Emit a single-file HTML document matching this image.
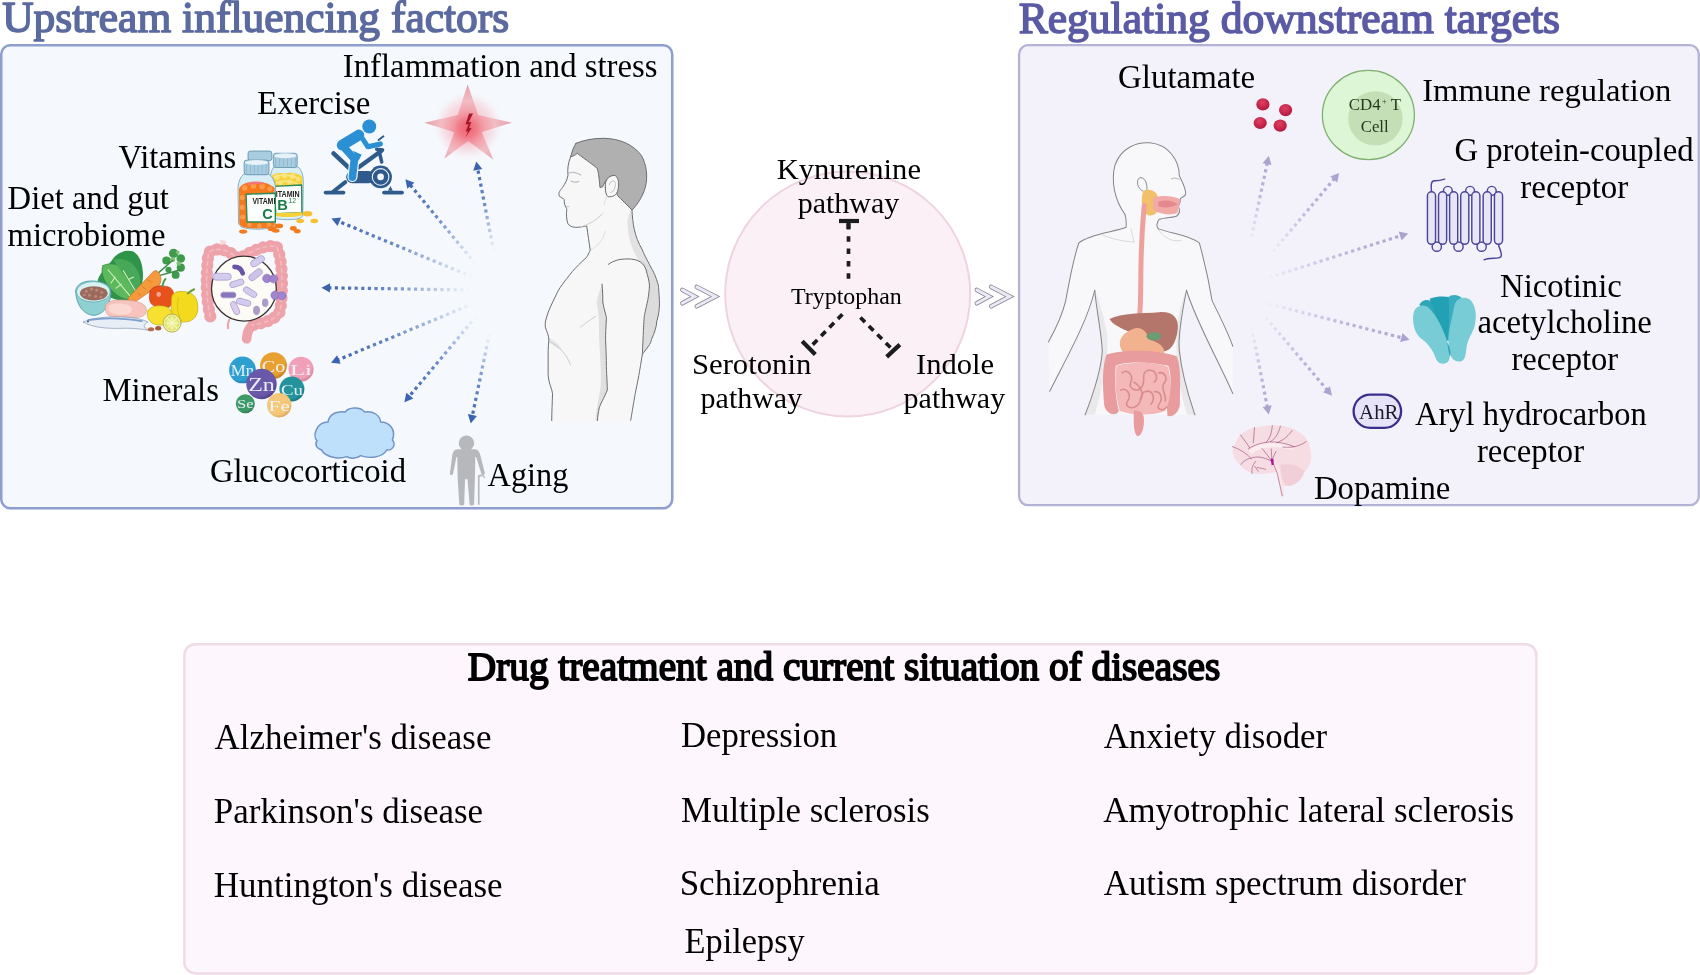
<!DOCTYPE html>
<html><head><meta charset="utf-8"><title>Tryptophan metabolism overview</title>
<style>
html,body{margin:0;padding:0;background:#fff;}
body{width:1700px;height:975px;overflow:hidden;}
svg{display:block;will-change:transform;}
svg{font-family:"Liberation Serif",serif;}
</style></head><body>
<svg width="1700" height="975" viewBox="0 0 1700 975">
<rect x="0" y="0" width="1700" height="975" fill="#ffffff"/>
<rect x="1.25" y="45.25" width="671" height="463" rx="9" ry="9" fill="#f5f9fe" stroke="#8d9ecf" stroke-width="2.5"/>
<rect x="1019.1" y="45.2" width="679.7" height="460" rx="9" ry="9" fill="#f3f2fb" stroke="#b5b3d5" stroke-width="2.3"/>
<rect x="184.4" y="644.2" width="1352" height="329.2" rx="11" ry="11" fill="#fdf6fc" stroke="#f0dbe6" stroke-width="2.5"/>
<circle cx="847.7" cy="294" r="122.5" fill="#fcf0f7" stroke="#eed3e0" stroke-width="2"/>
<defs><linearGradient id="ag0" gradientUnits="userSpaceOnUse" x1="493.8" y1="251.5" x2="476.2" y2="161.5"><stop offset="0" stop-color="#3a63b0" stop-opacity="0"/><stop offset="0.55" stop-color="#3a63b0" stop-opacity="0.75"/><stop offset="1" stop-color="#3a63b0" stop-opacity="1"/></linearGradient><linearGradient id="ag1" gradientUnits="userSpaceOnUse" x1="475.4" y1="263.8" x2="405.4" y2="179.2"><stop offset="0" stop-color="#3a63b0" stop-opacity="0"/><stop offset="0.55" stop-color="#3a63b0" stop-opacity="0.75"/><stop offset="1" stop-color="#3a63b0" stop-opacity="1"/></linearGradient><linearGradient id="ag2" gradientUnits="userSpaceOnUse" x1="472.3" y1="276.9" x2="331.5" y2="218.5"><stop offset="0" stop-color="#3a63b0" stop-opacity="0"/><stop offset="0.55" stop-color="#3a63b0" stop-opacity="0.75"/><stop offset="1" stop-color="#3a63b0" stop-opacity="1"/></linearGradient><linearGradient id="ag3" gradientUnits="userSpaceOnUse" x1="470.0" y1="290.0" x2="321.5" y2="287.7"><stop offset="0" stop-color="#3a63b0" stop-opacity="0"/><stop offset="0.55" stop-color="#3a63b0" stop-opacity="0.75"/><stop offset="1" stop-color="#3a63b0" stop-opacity="1"/></linearGradient><linearGradient id="ag4" gradientUnits="userSpaceOnUse" x1="473.5" y1="303.5" x2="331.0" y2="362.7"><stop offset="0" stop-color="#3a63b0" stop-opacity="0"/><stop offset="0.55" stop-color="#3a63b0" stop-opacity="0.75"/><stop offset="1" stop-color="#3a63b0" stop-opacity="1"/></linearGradient><linearGradient id="ag5" gradientUnits="userSpaceOnUse" x1="476.3" y1="316.2" x2="404.4" y2="402.2"><stop offset="0" stop-color="#3a63b0" stop-opacity="0"/><stop offset="0.55" stop-color="#3a63b0" stop-opacity="0.75"/><stop offset="1" stop-color="#3a63b0" stop-opacity="1"/></linearGradient><linearGradient id="ag6" gradientUnits="userSpaceOnUse" x1="489.6" y1="333.1" x2="470.7" y2="423.4"><stop offset="0" stop-color="#3a63b0" stop-opacity="0"/><stop offset="0.55" stop-color="#3a63b0" stop-opacity="0.75"/><stop offset="1" stop-color="#3a63b0" stop-opacity="1"/></linearGradient><linearGradient id="ag10" gradientUnits="userSpaceOnUse" x1="1250.1" y1="243.4" x2="1268.8" y2="155.8"><stop offset="0" stop-color="#aaa5d0" stop-opacity="0"/><stop offset="0.55" stop-color="#aaa5d0" stop-opacity="0.75"/><stop offset="1" stop-color="#aaa5d0" stop-opacity="1"/></linearGradient><linearGradient id="ag11" gradientUnits="userSpaceOnUse" x1="1268.8" y1="256.4" x2="1339.2" y2="173.0"><stop offset="0" stop-color="#aaa5d0" stop-opacity="0"/><stop offset="0.55" stop-color="#aaa5d0" stop-opacity="0.75"/><stop offset="1" stop-color="#aaa5d0" stop-opacity="1"/></linearGradient><linearGradient id="ag12" gradientUnits="userSpaceOnUse" x1="1263.0" y1="279.4" x2="1408.2" y2="233.4"><stop offset="0" stop-color="#aaa5d0" stop-opacity="0"/><stop offset="0.55" stop-color="#aaa5d0" stop-opacity="0.75"/><stop offset="1" stop-color="#aaa5d0" stop-opacity="1"/></linearGradient><linearGradient id="ag13" gradientUnits="userSpaceOnUse" x1="1263.0" y1="302.4" x2="1409.6" y2="339.7"><stop offset="0" stop-color="#aaa5d0" stop-opacity="0"/><stop offset="0.55" stop-color="#aaa5d0" stop-opacity="0.75"/><stop offset="1" stop-color="#aaa5d0" stop-opacity="1"/></linearGradient><linearGradient id="ag14" gradientUnits="userSpaceOnUse" x1="1261.6" y1="312.4" x2="1332.0" y2="395.7"><stop offset="0" stop-color="#aaa5d0" stop-opacity="0"/><stop offset="0.55" stop-color="#aaa5d0" stop-opacity="0.75"/><stop offset="1" stop-color="#aaa5d0" stop-opacity="1"/></linearGradient><linearGradient id="ag15" gradientUnits="userSpaceOnUse" x1="1251.6" y1="326.8" x2="1268.8" y2="414.4"><stop offset="0" stop-color="#aaa5d0" stop-opacity="0"/><stop offset="0.55" stop-color="#aaa5d0" stop-opacity="0.75"/><stop offset="1" stop-color="#aaa5d0" stop-opacity="1"/></linearGradient><radialGradient id="rdot" cx="0.45" cy="0.35" r="0.6"><stop offset="0" stop-color="#e04060"/><stop offset="1" stop-color="#b81a42"/></radialGradient></defs>
<line x1="493.8" y1="251.5" x2="477.7" y2="169.0" stroke="url(#ag0)" stroke-width="3.2" stroke-dasharray="3.2 3.4"/>
<polygon points="476.2,161.5 482.3,169.0 473.3,170.7" fill="#3a63b0"/>
<line x1="475.4" y1="263.8" x2="410.3" y2="185.1" stroke="url(#ag1)" stroke-width="3.2" stroke-dasharray="3.2 3.4"/>
<polygon points="405.4,179.2 414.4,182.8 407.3,188.7" fill="#3a63b0"/>
<line x1="472.3" y1="276.9" x2="338.6" y2="221.4" stroke="url(#ag2)" stroke-width="3.2" stroke-dasharray="3.2 3.4"/>
<polygon points="331.5,218.5 341.1,217.5 337.6,226.0" fill="#3a63b0"/>
<line x1="470.0" y1="290.0" x2="329.1" y2="287.8" stroke="url(#ag3)" stroke-width="3.2" stroke-dasharray="3.2 3.4"/>
<polygon points="321.5,287.7 330.1,283.2 329.9,292.4" fill="#3a63b0"/>
<line x1="473.5" y1="303.5" x2="338.1" y2="359.8" stroke="url(#ag4)" stroke-width="3.2" stroke-dasharray="3.2 3.4"/>
<polygon points="331.0,362.7 337.1,355.2 340.6,363.7" fill="#3a63b0"/>
<line x1="476.3" y1="316.2" x2="409.3" y2="396.3" stroke="url(#ag5)" stroke-width="3.2" stroke-dasharray="3.2 3.4"/>
<polygon points="404.4,402.2 406.3,392.7 413.4,398.6" fill="#3a63b0"/>
<line x1="489.6" y1="333.1" x2="472.3" y2="415.9" stroke="url(#ag6)" stroke-width="3.2" stroke-dasharray="3.2 3.4"/>
<polygon points="470.7,423.4 467.9,414.1 476.9,416.0" fill="#3a63b0"/>
<line x1="1250.1" y1="243.4" x2="1267.2" y2="163.3" stroke="url(#ag10)" stroke-width="3.2" stroke-dasharray="3.2 3.4"/>
<polygon points="1268.8,155.8 1271.5,165.1 1262.5,163.2" fill="#aaa5d0"/>
<line x1="1268.8" y1="256.4" x2="1334.3" y2="178.8" stroke="url(#ag11)" stroke-width="3.2" stroke-dasharray="3.2 3.4"/>
<polygon points="1339.2,173.0 1337.2,182.5 1330.2,176.5" fill="#aaa5d0"/>
<line x1="1263.0" y1="279.4" x2="1400.9" y2="235.7" stroke="url(#ag12)" stroke-width="3.2" stroke-dasharray="3.2 3.4"/>
<polygon points="1408.2,233.4 1401.5,240.4 1398.7,231.6" fill="#aaa5d0"/>
<line x1="1263.0" y1="302.4" x2="1402.2" y2="337.8" stroke="url(#ag13)" stroke-width="3.2" stroke-dasharray="3.2 3.4"/>
<polygon points="1409.6,339.7 1400.2,342.1 1402.5,333.1" fill="#aaa5d0"/>
<line x1="1261.6" y1="312.4" x2="1327.1" y2="389.9" stroke="url(#ag14)" stroke-width="3.2" stroke-dasharray="3.2 3.4"/>
<polygon points="1332.0,395.7 1323.0,392.2 1330.0,386.2" fill="#aaa5d0"/>
<line x1="1251.6" y1="326.8" x2="1267.3" y2="406.9" stroke="url(#ag15)" stroke-width="3.2" stroke-dasharray="3.2 3.4"/>
<polygon points="1268.8,414.4 1262.6,406.9 1271.7,405.2" fill="#aaa5d0"/>
<polyline points="682.4,289.9 694.8,296.6 682.4,303.3" fill="none" stroke="#85858c" stroke-width="4.5" stroke-linecap="round" stroke-linejoin="miter"/>
<polyline points="682.4,289.9 694.8,296.6 682.4,303.3" fill="none" stroke="#ebe8f8" stroke-width="2.9" stroke-linecap="round" stroke-linejoin="miter"/>
<polyline points="696.8,286.9 715.4,296.6 696.8,306.3" fill="none" stroke="#85858c" stroke-width="4.5" stroke-linecap="round" stroke-linejoin="miter"/>
<polyline points="696.8,286.9 715.4,296.6 696.8,306.3" fill="none" stroke="#ebe8f8" stroke-width="2.9" stroke-linecap="round" stroke-linejoin="miter"/>
<polyline points="976.8,289.9 989.2,296.6 976.8,303.3" fill="none" stroke="#85858c" stroke-width="4.5" stroke-linecap="round" stroke-linejoin="miter"/>
<polyline points="976.8,289.9 989.2,296.6 976.8,303.3" fill="none" stroke="#ebe8f8" stroke-width="2.9" stroke-linecap="round" stroke-linejoin="miter"/>
<polyline points="991.2,286.9 1009.8,296.6 991.2,306.3" fill="none" stroke="#85858c" stroke-width="4.5" stroke-linecap="round" stroke-linejoin="miter"/>
<polyline points="991.2,286.9 1009.8,296.6 991.2,306.3" fill="none" stroke="#ebe8f8" stroke-width="2.9" stroke-linecap="round" stroke-linejoin="miter"/>
<g stroke="#1c1c1c" fill="none">
<line x1="848.5" y1="223" x2="848.5" y2="281" stroke-width="3.7" stroke-dasharray="5.5 6.8" stroke-dashoffset="-1"/>
<line x1="839" y1="221" x2="859" y2="221" stroke-width="4.2"/>
<line x1="848.5" y1="219" x2="848.5" y2="229" stroke-width="4.2"/>
<line x1="842.4" y1="314.2" x2="809.5" y2="347.9" stroke-width="3.7" stroke-dasharray="6.5 5.5"/>
<line x1="802.2" y1="341.3" x2="815.3" y2="354.4" stroke-width="4.2"/>
<line x1="860.4" y1="317.5" x2="893.2" y2="350.3" stroke-width="3.7" stroke-dasharray="6.5 5.5"/>
<line x1="886.7" y1="356.9" x2="899.8" y2="344.6" stroke-width="4.2"/>
</g>
<ellipse cx="1262.9" cy="104.4" rx="6.6" ry="6.1" fill="url(#rdot)"/>
<ellipse cx="1285.6" cy="110.1" rx="6.6" ry="6.1" fill="url(#rdot)"/>
<ellipse cx="1260.2" cy="123" rx="6.6" ry="6.1" fill="url(#rdot)"/>
<ellipse cx="1280.2" cy="125.6" rx="6.6" ry="6.1" fill="url(#rdot)"/>
<ellipse cx="1368.4" cy="115" rx="46" ry="44.6" fill="#ddf7d6" stroke="#80b070" stroke-width="1.3"/>
<circle cx="1375.4" cy="118.4" r="27.2" fill="#c4deb6"/>
<text x="1382" y="104" font-size="8" fill="#1e3a1c">+</text>
<rect x="1353.6" y="394.6" width="47.5" height="33.3" rx="16.6" fill="#e6e2f7" stroke="#3a2e8c" stroke-width="2.3"/><defs><filter id="blur3" x="-50%" y="-50%" width="200%" height="200%"><feGaussianBlur stdDeviation="5"/></filter><radialGradient id="starg" gradientUnits="userSpaceOnUse" cx="468" cy="128" r="42"><stop offset="0" stop-color="#f06a78"/><stop offset="0.3" stop-color="#f29aa4"/><stop offset="0.65" stop-color="#f2bcc3"/><stop offset="1" stop-color="#e6a4b0"/></radialGradient><radialGradient id="mb0" cx="0.4" cy="0.35" r="0.7"><stop offset="0" stop-color="#2f9fd0"/><stop offset="0.75" stop-color="#2f9fd0"/><stop offset="1" stop-color="#1e78a8"/></radialGradient><radialGradient id="mb1" cx="0.4" cy="0.35" r="0.7"><stop offset="0" stop-color="#e8a030"/><stop offset="0.75" stop-color="#e8a030"/><stop offset="1" stop-color="#b87818"/></radialGradient><radialGradient id="mb2" cx="0.4" cy="0.35" r="0.7"><stop offset="0" stop-color="#f0a0b8"/><stop offset="0.75" stop-color="#f0a0b8"/><stop offset="1" stop-color="#d07890"/></radialGradient><radialGradient id="mb3" cx="0.4" cy="0.35" r="0.7"><stop offset="0" stop-color="#23939c"/><stop offset="0.75" stop-color="#23939c"/><stop offset="1" stop-color="#17707a"/></radialGradient><radialGradient id="mb4" cx="0.4" cy="0.35" r="0.7"><stop offset="0" stop-color="#6a58a8"/><stop offset="0.75" stop-color="#6a58a8"/><stop offset="1" stop-color="#4c3c88"/></radialGradient><radialGradient id="mb5" cx="0.4" cy="0.35" r="0.7"><stop offset="0" stop-color="#3e9a66"/><stop offset="0.75" stop-color="#3e9a66"/><stop offset="1" stop-color="#2a7248"/></radialGradient><radialGradient id="mb6" cx="0.4" cy="0.35" r="0.7"><stop offset="0" stop-color="#f4c878"/><stop offset="0.75" stop-color="#f4c878"/><stop offset="1" stop-color="#d8a050"/></radialGradient></defs>
<circle cx="468" cy="126" r="27" fill="#f7b4bc" opacity="0.5" filter="url(#blur3)"/>
<polygon points="467.6,84.3 478.2,115.0 511.9,122.7 481.7,132.1 493.4,159.7 468.1,141 444.2,158.8 454.4,132.3 424.3,122.7 457.8,115.0" fill="url(#starg)"/>
<circle cx="467" cy="129" r="12" fill="#ee6272" opacity="0.55" filter="url(#blur3)"/>
<polygon points="473,113.5 469,113.5 465.5,124.5 468.6,124.2 465.6,131.5 468.2,131.2 465.2,138 471.6,128 469,128.3 471.3,122 468.6,122.3" fill="#a8162a"/>
<g transform="translate(308,400) scale(0.06667)"><path d="M300,330 C320,200 450,160 560,180 C600,110 780,90 850,180 C980,160 1080,230 1090,330 C1220,330 1330,450 1265,600 C1320,660 1280,760 1180,750 C1120,870 900,880 790,835 C720,890 620,880 580,850 C450,900 250,850 200,745 C120,730 100,650 135,610 C60,540 130,330 300,330 Z" fill="#bfe0fa" stroke="#7093c8" stroke-width="22"/></g>
<g transform="translate(440,430) scale(0.0821)" fill="#b6b8bc"><circle cx="322" cy="160" r="94"/><path d="M215,235 L425,235 C470,240 480,270 490,300 L545,520 C550,545 520,560 505,535 L440,330 L430,330 L425,590 L415,900 C410,925 360,925 360,900 L335,600 L305,600 L295,900 C290,925 235,925 235,900 L215,590 L210,330 L200,330 L160,530 C150,560 115,550 122,520 L150,300 C160,260 175,240 215,235 Z"/><path d="M462,560 L462,910 L482,910 L482,570 C500,560 530,560 540,590 L552,585 C540,540 495,530 462,555 Z"/></g>
<circle cx="242.5" cy="369.9" r="13.4" fill="url(#mb0)"/>
<text x="242.5" y="375.9" font-size="16.8" fill="#f4f8ff" text-anchor="middle" opacity="0.92" textLength="23.4" lengthAdjust="spacingAndGlyphs">Mn</text>
<circle cx="273.5" cy="365.6" r="13.4" fill="url(#mb1)"/>
<text x="273.5" y="371.6" font-size="16.8" fill="#f4f8ff" text-anchor="middle" opacity="0.92" textLength="23.4" lengthAdjust="spacingAndGlyphs">Co</text>
<circle cx="301" cy="369.2" r="12.5" fill="url(#mb2)"/>
<text x="301.0" y="374.8" font-size="15.6" fill="#f4f8ff" text-anchor="middle" opacity="0.92" textLength="21.9" lengthAdjust="spacingAndGlyphs">Li</text>
<circle cx="291.9" cy="389" r="12.5" fill="url(#mb3)"/>
<text x="291.9" y="394.6" font-size="15.6" fill="#f4f8ff" text-anchor="middle" opacity="0.92" textLength="21.9" lengthAdjust="spacingAndGlyphs">Cu</text>
<circle cx="261.5" cy="384" r="15.2" fill="url(#mb4)"/>
<text x="261.5" y="390.8" font-size="19.0" fill="#f4f8ff" text-anchor="middle" opacity="0.92" textLength="26.6" lengthAdjust="spacingAndGlyphs">Zn</text>
<circle cx="245.3" cy="403.8" r="9.5" fill="url(#mb5)"/>
<text x="245.3" y="408.1" font-size="11.9" fill="#f4f8ff" text-anchor="middle" opacity="0.92" textLength="16.6" lengthAdjust="spacingAndGlyphs">Se</text>
<circle cx="279.2" cy="405.2" r="12.2" fill="url(#mb6)"/>
<text x="279.2" y="410.7" font-size="15.2" fill="#f4f8ff" text-anchor="middle" opacity="0.92" textLength="21.3" lengthAdjust="spacingAndGlyphs">Fe</text>
<g transform="translate(1418,172) scale(0.09641)" stroke="#4b4699" stroke-width="15" fill="#e8e5f7"><circle cx="310" cy="195" r="46" fill="#efedf9"/><circle cx="540" cy="195" r="46" fill="#efedf9"/><circle cx="765" cy="195" r="46" fill="#efedf9"/><circle cx="195" cy="775" r="48" fill="#efedf9"/><circle cx="420" cy="775" r="48" fill="#efedf9"/><circle cx="660" cy="775" r="48" fill="#efedf9"/><rect x="98" y="205" width="84" height="545" rx="42"/><rect x="213" y="205" width="84" height="545" rx="42"/><rect x="328" y="205" width="84" height="545" rx="42"/><rect x="443" y="205" width="84" height="545" rx="42"/><rect x="558" y="205" width="84" height="545" rx="42"/><rect x="676" y="205" width="84" height="545" rx="42"/><rect x="793" y="205" width="84" height="545" rx="42"/><path d="M140,205 C135,150 130,90 170,90 C210,95 240,85 282,72" fill="none"/><path d="M835,750 C840,800 880,840 860,880 C830,910 740,880 680,915" fill="none"/></g>
<g transform="translate(1405,288) scale(0.08205)"><path d="M175,200 C210,140 290,130 320,170 C400,300 500,450 520,640 L470,640 C400,480 260,330 175,200 Z" fill="#2fa7ba"/><path d="M300,130 C380,100 470,100 540,110 C570,250 570,450 540,640 L500,640 C430,470 360,300 300,130 Z" fill="#22a0b4"/><path d="M530,110 C560,80 640,70 690,120 C680,250 620,450 560,640 L520,640 C540,450 545,250 530,110 Z" fill="#3aaec0"/><path d="M100,330 C110,230 190,190 270,225 C360,300 450,450 510,640 C540,720 570,820 530,890 C490,940 410,930 380,870 C350,790 310,700 200,620 C120,560 90,440 100,330 Z" fill="#78ccd5"/><path d="M610,190 C640,120 720,100 790,140 C860,200 880,330 850,460 C820,560 770,610 750,720 C740,800 740,880 680,895 C600,905 560,860 550,790 C520,700 525,560 560,420 C580,330 590,260 610,190 Z" fill="#78ccd5"/><path d="M515,660 C535,700 560,760 555,820 L545,830 C530,770 520,720 515,660 Z" fill="#2fa7ba"/></g><defs></defs>
<g transform="translate(540,130) scale(0.13333)" stroke-linejoin="round" stroke-linecap="round"><path d="M270,100 C250,130 235,170 230,200 C210,250 205,290 210,340 C205,370 190,400 170,430 C150,455 135,470 145,495 C155,510 175,510 180,520 C185,540 180,555 190,570 C195,585 205,590 200,610 C195,630 200,660 205,690 C215,725 250,735 300,728 C330,724 345,720 350,720 C360,780 368,850 377,900 C365,930 350,954 350,954 C300,1000 270,1030 242,1062 C180,1140 140,1190 121,1237 C90,1300 60,1360 47,1412 C38,1440 38,1460 40,1479 C50,1510 65,1540 67,1573 C65,1600 61,1630 61,1654 L61,1843 C65,1900 90,1940 94,1977 C92,2050 88,2120 88,2179 L88,2195 L780,2195 L680,2179 C700,2080 714,2020 714,1977 C725,1920 740,1880 741,1843 C755,1780 768,1720 768,1681 C800,1640 835,1600 835,1573 C860,1520 875,1470 875,1439 C890,1390 896,1340 896,1304 C895,1240 889,1200 889,1169 C870,1100 850,1060 835,1035 C800,970 775,920 768,900 C740,850 705,790 700,750 C695,700 690,650 690,600 Z" fill="#f7f7f8"/><path d="M690,600 C692,700 705,790 768,900 C790,950 815,1000 835,1035 C800,1010 760,990 730,960 C690,900 660,800 655,700 C655,660 670,620 690,600 Z" fill="#e2e2e3"/><path d="M714,967 C760,980 805,1030 821,1169 C815,1240 800,1330 781,1412 C775,1500 770,1600 768,1681 C800,1640 835,1600 835,1573 C860,1520 875,1470 875,1439 C890,1390 896,1340 896,1304 C895,1240 889,1200 889,1169 C870,1100 850,1060 835,1035 C800,990 760,970 714,967 Z" fill="#dcdcdd"/><path d="M465,1156 C470,1200 471,1250 471,1290 C480,1350 498,1390 498,1412 C494,1480 492,1530 492,1573 C495,1650 498,1720 498,1775 C500,1850 505,1910 505,1950 C480,2010 450,2060 444,2085 C438,2120 431,2150 431,2179 L415,2179 C420,2100 445,2000 455,1920 C462,1820 450,1700 445,1600 C440,1500 450,1400 425,1300 C430,1250 450,1200 465,1156 Z" fill="#e0e0e1"/><path d="M50,1560 C100,1570 140,1600 165,1650 C120,1640 80,1600 50,1560 Z" fill="#e6e6e7"/><g fill="none" stroke="#6c6c6e" stroke-width="7.5"><path d="M230,200 C210,250 205,290 210,340 C205,370 190,400 170,430 C150,455 135,470 145,495 C155,510 175,510 180,520 C185,540 180,555 190,570 C195,585 205,590 200,610 C195,630 200,660 205,690 C215,725 250,735 300,728 C330,724 345,720 350,720 C360,780 368,850 377,900 C365,930 350,954 350,954 C300,1000 270,1030 242,1062 C180,1140 140,1190 121,1237 C90,1300 60,1360 47,1412 C38,1440 38,1460 40,1479 C50,1510 65,1540 67,1573 C65,1600 61,1630 61,1654 L61,1843 C65,1900 90,1940 94,1977 C92,2050 88,2120 88,2179"/><path d="M690,600 C695,700 705,790 768,900 C775,920 800,970 835,1035 C850,1060 870,1100 889,1169 C889,1200 895,1240 896,1304 C896,1340 890,1390 875,1439 C875,1470 860,1520 835,1573 C835,1600 800,1640 768,1681"/><path d="M512,1008 C560,975 600,967 660,967 C740,967 780,1000 795,1048 C810,1100 821,1140 821,1169 C818,1230 808,1277 808,1277 C795,1340 781,1390 781,1412 C776,1480 774,1546 774,1546 C770,1620 768,1681 768,1681 C755,1760 741,1843 741,1843 C728,1910 714,1977 714,1977 C700,2060 680,2179 680,2179"/><path d="M465,1156 C470,1200 471,1250 471,1290 C480,1350 498,1390 498,1412 C494,1480 492,1530 492,1573 C495,1650 498,1720 498,1775 C500,1850 505,1910 505,1950 C480,2010 450,2060 444,2085 C438,2120 431,2150 431,2179"/></g><path d="M303,1479 C340,1450 380,1420 418,1398 M74,1590 C140,1620 200,1680 229,1762" fill="none" stroke="#b8b8ba" stroke-width="5"/><path d="M270,100 C330,75 400,62 480,62 C600,65 700,110 760,190 C800,260 810,350 790,430 C770,500 730,560 690,600 C650,560 610,520 580,490 L555,345 C520,340 495,370 470,425 L450,432 C445,380 440,320 430,290 C400,260 350,230 280,175 C260,190 245,200 230,200 C240,160 255,120 270,100 Z" fill="#b0b0b1" stroke="#6c6c6e" stroke-width="7.5"/><path d="M490,430 C485,380 510,345 555,340 C590,345 595,400 585,450 C575,490 545,505 510,500 C495,490 490,460 490,430 Z" fill="#f7f7f8" stroke="#6c6c6e" stroke-width="7.5"/><path d="M520,410 C530,375 560,372 566,400 C566,440 548,468 530,468" fill="none" stroke="#a8a8aa" stroke-width="5"/><path d="M215,325 C240,312 280,318 305,338" fill="none" stroke="#c0c0c2" stroke-width="9"/><path d="M232,383 C252,395 275,393 292,386" fill="none" stroke="#8a8a8c" stroke-width="5"/><path d="M186,571 C196,578 207,578 218,573" fill="none" stroke="#9a9a9c" stroke-width="4"/><path d="M300,728 C360,712 420,680 468,628" fill="none" stroke="#c8c8ca" stroke-width="7"/><path d="M480,560 C490,530 495,510 500,500" fill="none" stroke="#d0d0d2" stroke-width="5"/><path d="M380,900 C420,880 470,840 490,760" fill="none" stroke="#d0d0d2" stroke-width="5"/></g>
<g transform="translate(1040,135) scale(0.313)" stroke-linejoin="round" stroke-linecap="round"><path d="M272,255 C240,210 225,150 240,95 C260,40 310,22 350,25 C410,30 445,80 445,130 C455,150 468,175 465,190 C462,198 450,198 448,205 C450,215 445,222 442,228 C448,240 445,252 438,258 C430,265 400,262 380,270 C372,282 372,292 378,300 C420,315 480,320 509,345 C530,420 540,470 550,530 C575,580 600,630 616,675 L616,826 C570,720 500,600 468,496 C455,560 440,640 455,760 C465,820 485,860 495,894 L144,894 C160,840 195,760 199,689 C195,600 180,540 175,496 C150,600 80,720 31,819 L27,661 C50,620 70,580 82,530 C95,460 105,400 124,345 C160,315 240,310 275,295 C276,280 274,265 272,255 Z" fill="#f8f8fa"/><path d="M175,496 C180,560 195,620 199,689 C195,760 165,840 144,894 L175,894 C200,800 220,720 215,640 C205,580 190,530 175,496 Z" fill="#e9e9eb"/><path d="M468,496 C460,560 440,640 455,760 C465,820 485,860 495,894 L470,894 C440,800 430,700 440,600 C445,560 455,520 468,496 Z" fill="#e9e9eb"/><g fill="none" stroke="#858587" stroke-width="3.2"><path d="M272,255 C240,210 225,150 240,95 C260,40 310,22 350,25 C410,30 445,80 445,130 C455,150 468,175 465,190 C462,198 450,198 448,205 C450,215 445,222 442,228 C448,240 445,252 438,258 C430,265 400,262 380,270 C372,282 372,292 378,300"/><path d="M272,255 C276,270 276,285 275,295 C240,310 160,315 124,345 C105,400 95,460 82,530 C70,580 50,620 27,661"/><path d="M378,300 C420,315 480,320 509,345 C530,420 540,470 550,530 C575,580 600,630 616,675"/><path d="M175,496 C150,600 80,720 31,819"/><path d="M468,496 C500,600 570,720 616,826"/><path d="M175,496 C180,560 195,620 199,689 C195,760 165,840 144,894"/><path d="M468,496 C455,560 440,640 445,689 C455,780 480,850 495,894"/></g><path d="M200,320 C240,335 270,340 300,342 M380,305 C400,330 420,342 450,337 M290,300 C295,315 298,330 300,342" fill="none" stroke="#cfcfd1" stroke-width="2.5"/><path d="M330,180 C310,172 305,142 320,136 C340,136 345,165 340,185 Z" fill="#f8f8fa" stroke="#858587" stroke-width="3"/><path d="M420,140 C430,135 440,138 445,142" fill="none" stroke="#a0a0a2" stroke-width="2.5"/><path d="M330,178 C355,168 380,182 378,212 C385,242 370,262 345,256 C325,246 320,206 330,178 Z" fill="#f2c06a"/><path d="M362,200 C392,190 430,195 448,205 C445,225 442,240 438,250 C410,258 380,252 362,240 Z" fill="#f2aaa8"/><path d="M378,214 C402,205 425,210 440,222 C420,232 396,235 378,228 Z" fill="#e48a8e"/><path d="M333,225 C326,300 322,400 322,470 C322,520 320,560 318,590" fill="none" stroke="#eea09c" stroke-width="16"/><path d="M222,588 C260,568 330,570 380,566 C422,563 445,582 440,622 C435,662 420,688 395,692 C370,660 320,652 290,632 C260,617 232,607 222,588 Z" fill="#b4766a"/><path d="M292,622 C322,607 342,627 347,652 C372,662 402,672 397,702 C382,732 322,732 282,707 C247,687 242,642 292,622 Z" fill="#f2b290"/><ellipse cx="364" cy="643" rx="24" ry="13" fill="#6c9c74"/><path d="M212,702 C270,682 382,687 437,707 C452,742 447,802 447,862 C442,892 422,902 407,897 L405,860 C420,820 420,760 410,737 C350,724 270,722 242,737 C237,792 242,842 252,882 C242,902 210,892 205,862 C200,802 198,742 212,702 Z" fill="#e89c9e"/><path d="M245,737 C300,722 380,727 410,742 C420,792 420,842 400,882 C360,897 300,897 255,882 C240,832 238,782 245,737 Z" fill="#f3b8b7"/><g fill="none" stroke="#d98c8f" stroke-width="5"><path d="M262,760 C280,745 300,770 290,790 C280,810 310,825 325,805 C340,785 320,760 345,752 C370,748 380,775 365,790"/><path d="M380,760 C400,755 410,780 395,795 C385,812 405,830 400,850"/><path d="M258,815 C275,805 295,830 280,850 C268,865 290,880 310,865 C330,850 315,830 335,820 C360,812 370,840 355,860"/><path d="M365,820 C385,818 395,840 380,860 C370,875 390,885 405,870"/><path d="M300,790 C320,800 335,830 320,845"/></g><path d="M300,880 C320,880 335,885 332,920 C330,945 322,962 312,962 C300,957 298,920 300,880 Z" fill="#e89c9e"/></g>
<g transform="translate(1225,415) scale(0.0923)" stroke-linecap="round" stroke-linejoin="round"><path d="M80,395 C100,300 150,230 173,208 C230,160 290,140 333,135 C450,110 530,108 600,115 C700,130 760,160 800,182 C860,220 895,270 907,302 C930,380 935,430 934,475 C925,540 900,580 867,609 C840,660 820,700 800,715 C760,750 720,768 693,768 C660,770 640,770 630,760 L640,880 L610,880 C590,800 580,700 573,609 C520,625 470,635 440,635 C380,640 340,640 307,635 C240,610 190,580 160,542 C110,490 85,440 80,395 Z" fill="#f6dce3"/><path d="M600,540 C680,520 800,540 867,609 C840,660 820,700 800,715 C760,750 720,768 693,768 C650,760 620,720 610,650 Z" fill="#f1cfd8"/><path d="M560,560 C580,620 600,720 625,870" fill="none" stroke="#f9e6ea" stroke-width="40"/><path d="M253,390 C320,320 420,290 560,300 C650,310 720,340 750,380 C680,370 600,350 520,350 C420,350 330,390 290,420 Z" fill="#fbecf0"/><g fill="none" stroke="#8e3a66" stroke-width="6"><path d="M80,342 C160,368 240,422 287,475"/><path d="M167,215 C200,260 233,302 267,355"/><path d="M320,135 C315,200 313,235 307,302"/><path d="M513,115 C505,190 493,248 440,302"/><path d="M600,122 C580,190 560,248 493,288"/><path d="M727,168 C690,220 653,262 560,302"/><path d="M880,288 C800,340 747,355 627,348"/><path d="M253,368 C320,320 400,302 480,292 C560,288 680,310 747,342"/><path d="M173,535 C200,500 227,475 333,455 C400,450 453,475 507,502"/><path d="M293,635 C290,590 287,555 333,502"/><path d="M360,609 C340,580 320,555 320,555"/><path d="M440,589 C400,575 347,569 347,569"/><path d="M400,362 C450,420 480,460 507,502"/><path d="M500,368 C505,420 507,460 507,502"/><path d="M553,395 C530,440 515,470 507,502"/><path d="M507,502 C540,560 560,609 570,650 C590,740 610,820 620,875"/></g><path d="M495,470 L525,478 L528,540 L505,545 Z" fill="#b0109a"/></g><defs></defs>
<g transform="translate(320,115) scale(0.08718)" stroke-linecap="round" stroke-linejoin="round"><g stroke="#2f5a8c" fill="none"><line x1="155" y1="440" x2="335" y2="610" stroke-width="52"/><line x1="445" y1="600" x2="705" y2="410" stroke-width="48"/><line x1="650" y1="392" x2="718" y2="400" stroke-width="40"/><line x1="680" y1="420" x2="708" y2="540" stroke-width="40"/><line x1="290" y1="770" x2="150" y2="880" stroke-width="45"/><line x1="65" y1="890" x2="268" y2="890" stroke-width="45"/><line x1="735" y1="890" x2="940" y2="890" stroke-width="45"/><line x1="672" y1="288" x2="728" y2="244" stroke-width="22"/></g><polygon points="780,868 835,868 808,815" fill="#2f5a8c"/><rect x="300" y="642" width="330" height="140" rx="70" fill="#2f5a8c"/><circle cx="695" cy="710" r="130" fill="#2f5a8c"/><circle cx="695" cy="710" r="95" fill="none" stroke="#f4f8fd" stroke-width="12"/><circle cx="695" cy="710" r="38" fill="#f4f8fd"/><circle cx="565" cy="132" r="80" fill="#2b8fd3"/><polyline points="292,390 395,505 372,712" fill="none" stroke="#f4f8fd" stroke-width="115"/><line x1="255" y1="345" x2="445" y2="230" stroke="#2b8fd3" stroke-width="125"/><polyline points="470,245 550,365 692,332" fill="none" stroke="#2b8fd3" stroke-width="58"/><polyline points="292,390 395,505 372,712" fill="none" stroke="#2b8fd3" stroke-width="88"/><polygon points="378,410 478,455 440,528" fill="#2b8fd3"/></g>
<g transform="translate(230,145) scale(0.09744)" stroke-linejoin="round"><rect x="185" y="62" width="245" height="100" rx="25" fill="#a8cde0" stroke="#5a8aa8" stroke-width="8"/><path d="M450,225 L700,225 C735,255 752,310 752,380 L747,720 C742,752 700,764 590,766 C480,764 430,752 420,722 L410,380 C412,310 425,255 450,225 Z" fill="#d8eef6" stroke="#6a9ab4" stroke-width="8"/><path d="M418,330 C440,290 500,280 560,292 C620,278 700,285 742,330 L745,440 L425,440 Z" fill="#f6d23a"/><g fill="#fbe37a"><circle cx="480" cy="330" r="28"/><circle cx="560" cy="315" r="26"/><circle cx="640" cy="320" r="28"/><circle cx="700" cy="350" r="24"/><circle cx="520" cy="390" r="24"/><circle cx="610" cy="380" r="26"/></g><path d="M450,330 C500,300 600,310 680,330 M470,390 C540,360 640,370 700,400" fill="none" stroke="#f9e68a" stroke-width="18"/><rect x="445" y="85" width="245" height="145" rx="28" fill="#a8cde0" stroke="#5a8aa8" stroke-width="8"/><path d="M470,130 L470,215 M510,130 L510,215 M550,130 L550,215 M590,130 L590,215 M630,130 L630,215 M670,130 L670,215" stroke="#7fa8c0" stroke-width="6"/><ellipse cx="567" cy="110" rx="115" ry="25" fill="#e6f2f8"/><path d="M455,425 L735,410 L738,695 L470,705 Z" fill="#fcfffc" stroke="#2a8a5a" stroke-width="14"/><path d="M455,700 L738,690 L740,720 C700,745 470,745 455,720 Z" fill="#f6d23a"/><text x="470" y="530" font-family="Liberation Sans" font-weight="bold" font-size="95" fill="#222" textLength="245" lengthAdjust="spacingAndGlyphs">ITAMIN</text><text x="485" y="670" font-family="Liberation Sans" font-weight="bold" font-size="150" fill="#1a7a4a">B</text><text x="600" y="600" font-family="Liberation Sans" font-size="70" fill="#1a7a4a">12</text><path d="M140,300 L400,300 C440,330 465,380 468,440 L465,800 C460,840 420,862 280,864 C140,862 95,840 88,800 L82,440 C85,380 105,330 140,300 Z" fill="#d8eef6" stroke="#6a9ab4" stroke-width="8"/><path d="M92,450 C120,395 180,380 240,388 C310,372 400,385 458,440 L460,800 C455,838 420,854 280,856 C145,854 100,838 95,800 Z" fill="#f57a1e"/><g fill="#fb9a48"><circle cx="150" cy="440" r="30"/><circle cx="240" cy="420" r="30"/><circle cx="330" cy="425" r="30"/><circle cx="410" cy="450" r="26"/><circle cx="125" cy="540" r="26"/><circle cx="125" cy="640" r="26"/><circle cx="130" cy="740" r="26"/><circle cx="200" cy="820" r="24"/><circle cx="300" cy="830" r="24"/><circle cx="400" cy="815" r="24"/></g><path d="M180,400 C230,385 290,385 340,395" fill="none" stroke="#f27878" stroke-width="26"/><rect x="145" y="155" width="255" height="150" rx="28" fill="#a8cde0" stroke="#5a8aa8" stroke-width="8"/><path d="M170,200 L170,290 M210,200 L210,290 M250,200 L250,290 M290,200 L290,290 M330,200 L330,290 M370,200 L370,290" stroke="#7fa8c0" stroke-width="6"/><ellipse cx="272" cy="180" rx="120" ry="25" fill="#e6f2f8"/><path d="M165,505 L465,495 L465,790 L175,790 Z" fill="#fcfffc" stroke="#2a8a5a" stroke-width="14"/><text x="230" y="610" font-family="Liberation Sans" font-weight="bold" font-size="95" fill="#222" textLength="235" lengthAdjust="spacingAndGlyphs">VITAMI</text><text x="330" y="755" font-family="Liberation Sans" font-weight="bold" font-size="150" fill="#1a7a4a">C</text><g fill="#f57a1e"><ellipse cx="135" cy="888" rx="42" ry="22"/><ellipse cx="430" cy="860" rx="45" ry="25"/><ellipse cx="500" cy="830" rx="45" ry="25"/><ellipse cx="470" cy="880" rx="40" ry="20"/><ellipse cx="650" cy="855" rx="35" ry="25"/><ellipse cx="690" cy="885" rx="35" ry="22"/></g><g fill="#f6c030"><ellipse cx="720" cy="780" rx="40" ry="22"/><ellipse cx="795" cy="705" rx="50" ry="28"/><ellipse cx="865" cy="780" rx="40" ry="22"/></g></g>
<g transform="translate(70,240) scale(0.10259)" stroke-linejoin="round" stroke-linecap="round"><path d="M270,390 C300,300 380,250 420,180 C470,120 540,90 610,110 C680,140 720,250 710,380 C700,480 640,560 560,590 C460,600 360,560 290,480 Z" fill="#2e9448"/><path d="M320,250 C420,200 540,260 610,380 C650,460 620,560 560,580 C470,570 380,480 330,380 C310,330 305,280 320,250 Z" fill="#5cb85c" stroke="#2e7a40" stroke-width="6"/><path d="M420,190 C500,170 600,190 660,300 C700,380 690,470 640,520 C600,460 540,350 480,280 Z" fill="#48a85a"/><path d="M370,290 L580,540 M440,360 L400,420 M500,430 L450,470 M520,300 L640,500 M580,380 L620,360" fill="none" stroke="#d8f0c0" stroke-width="10"/><g fill="#3f9a4c"><circle cx="1010" cy="130" r="45"/><circle cx="1080" cy="180" r="42"/><circle cx="940" cy="200" r="40"/><circle cx="1080" cy="270" r="40"/><circle cx="1030" cy="340" r="38"/><circle cx="960" cy="290" r="30"/></g><g fill="#7cc070"><circle cx="1000" cy="190" r="25"/><circle cx="1060" cy="230" r="22"/><circle cx="1050" cy="120" r="18"/></g><path d="M850,330 L1000,200 M860,350 L1080,290" stroke="#3a8a42" stroke-width="14"/><path d="M840,300 C890,320 900,400 870,440 L640,600 C600,620 560,600 570,560 L800,320 C810,305 825,298 840,300 Z" fill="#f49a3c" stroke="#c8702a" stroke-width="6"/><path d="M700,450 L740,480 M660,520 L690,540 M760,390 L800,410" stroke="#c8702a" stroke-width="6"/><path d="M55,500 C60,420 150,395 230,400 C330,405 400,440 398,520 C395,620 340,720 240,735 C140,735 60,640 55,500 Z" fill="#8fd0d2" stroke="#4a9aa8" stroke-width="8"/><ellipse cx="228" cy="505" rx="165" ry="100" fill="#d8f2f2" stroke="#4a9aa8" stroke-width="6"/><ellipse cx="232" cy="520" rx="135" ry="70" fill="#9a6a5e"/><g fill="#c08a7a"><circle cx="160" cy="500" r="14"/><circle cx="210" cy="480" r="14"/><circle cx="260" cy="490" r="14"/><circle cx="310" cy="510" r="14"/><circle cx="190" cy="540" r="14"/><circle cx="250" cy="550" r="14"/><circle cx="300" cy="555" r="12"/><circle cx="140" cy="535" r="12"/></g><path d="M345,650 C350,600 420,580 520,585 C640,590 740,610 745,680 C748,720 720,755 640,755 L420,750 C370,745 340,710 345,650 Z" fill="#f6c4bc" stroke="#d89a90" stroke-width="6"/><path d="M380,640 C420,610 500,615 560,630 C600,640 620,690 580,715 C520,740 420,730 385,700 C370,680 370,660 380,640 Z" fill="#fbd8d2"/><path d="M130,800 C200,760 350,745 520,750 C620,755 700,770 760,800 C720,820 700,850 770,880 C700,870 640,860 540,860 C380,865 230,860 130,800 Z" fill="#e8eef6" stroke="#7a8aa8" stroke-width="6"/><path d="M180,780 C300,760 480,755 700,790" fill="none" stroke="#7aa0d0" stroke-width="18"/><circle cx="175" cy="795" r="10" fill="#4a5a7a"/><path d="M780,500 C800,450 870,440 920,450 C980,455 1010,480 1012,540 C1015,600 990,650 950,660 C900,670 830,660 790,620 C770,590 770,540 780,500 Z" fill="#e8501c" stroke="#b83a10" stroke-width="6"/><path d="M900,450 C905,420 910,400 930,380" fill="none" stroke="#4a9a4a" stroke-width="18"/><ellipse cx="865" cy="530" rx="22" ry="25" fill="#f8a890"/><path d="M990,560 C1000,500 1080,490 1150,510 C1230,530 1250,600 1245,680 C1240,760 1180,800 1110,800 C1040,795 990,740 985,660 Z" fill="#f4da1e" stroke="#b8a010" stroke-width="6"/><path d="M1060,560 C1040,620 1040,720 1090,790" fill="none" stroke="#c8b010" stroke-width="6"/><path d="M1150,520 C1170,500 1190,490 1210,480" fill="none" stroke="#6aa03a" stroke-width="20"/><path d="M760,690 C790,640 870,630 940,650 C990,670 1000,730 980,780 C950,830 880,840 820,820 C770,800 740,740 760,690 Z" fill="#f8e030" stroke="#b8a010" stroke-width="6"/><circle cx="995" cy="810" r="88" fill="#f0f0a0" stroke="#a8a838" stroke-width="8"/><circle cx="995" cy="810" r="65" fill="#e8f080" stroke="#c8c850" stroke-width="6"/><path d="M995,745 L995,875 M930,810 L1060,810 M950,765 L1040,855 M1040,765 L950,855" stroke="#f8f8e0" stroke-width="8"/><ellipse cx="790" cy="870" rx="30" ry="20" fill="#b86a4a"/><ellipse cx="860" cy="860" rx="30" ry="22" fill="#a85a3a"/></g>
<g transform="translate(195,235) scale(0.1179)" stroke-linejoin="round" stroke-linecap="round"><path d="M215,40 L265,50 L255,170 L205,160 Z" fill="#f7d8dc"/><path d="M130,690 C95,550 90,350 115,150 C180,95 285,125 365,200 C445,170 545,85 690,95 C745,200 748,450 722,645 C682,725 580,745 485,765 C442,805 440,850 438,880" fill="none" stroke="#eea3aa" stroke-width="82"/><path d="M130,690 C95,550 90,350 115,150 C180,95 285,125 365,200 C445,170 545,85 690,95 C745,200 748,450 722,645 C682,725 580,745 485,765" fill="none" stroke="#eea3aa" stroke-width="104" stroke-dasharray="0 62"/><path d="M130,690 C95,550 90,350 115,150 C180,95 285,125 365,200 C445,170 545,85 690,95 C745,200 748,450 722,645 C682,725 580,745 485,765" fill="none" stroke="#f5c3c8" stroke-width="14" stroke-dasharray="30 32" opacity="0.7"/><path d="M290,720 C280,740 275,760 280,790" fill="none" stroke="#eea3aa" stroke-width="18"/><circle cx="415" cy="455" r="275" fill="#fcfbf5" stroke="#3a3030" stroke-width="11"/><g stroke="#a898cc" stroke-width="6"><rect x="465" y="195" width="130" height="55" rx="27" transform="rotate(-32 530 222)" fill="#d4ccee"/><path d="M335,270 C370,270 395,290 405,325" fill="none" stroke="#6a54a8" stroke-width="40"/><rect x="150" y="325" width="158" height="58" rx="29" fill="#d4ccee"/><rect x="448" y="310" width="130" height="55" rx="27" transform="rotate(-38 513 337)" fill="#ccc4e8"/><rect x="292" y="385" width="125" height="50" rx="25" transform="rotate(-18 355 410)" fill="#d4ccee"/><rect x="405" y="460" width="125" height="50" rx="25" transform="rotate(32 467 485)" fill="#d4ccee"/><rect x="218" y="485" width="130" height="48" rx="24" fill="#8a74bc"/><rect x="350" y="545" width="125" height="50" rx="25" transform="rotate(15 412 570)" fill="#d4ccee"/><rect x="280" y="595" width="120" height="50" rx="25" transform="rotate(65 340 620)" fill="#dccdea"/></g><g fill="#a084cc" stroke="#8a70b8" stroke-width="5"><circle cx="610" cy="368" r="36"/><circle cx="668" cy="372" r="34"/><circle cx="680" cy="512" r="36"/><circle cx="738" cy="515" r="34"/></g><g fill="#ab9cc8"><ellipse cx="522" cy="640" rx="30" ry="40"/><ellipse cx="595" cy="575" rx="27" ry="36"/></g></g>
<text x="2.23" y="31.80" font-size="45" fill="#5b6a9f" textLength="507.04" lengthAdjust="spacingAndGlyphs" stroke="#5b6a9f" stroke-width="1.6" stroke-linejoin="round">Upstream influencing factors</text>
<text x="1018.64" y="32.60" font-size="45" fill="#5a5aa5" textLength="541.47" lengthAdjust="spacingAndGlyphs" stroke="#5a5aa5" stroke-width="1.6" stroke-linejoin="round">Regulating downstream targets</text>
<text x="342.84" y="76.80" font-size="34" fill="#000" textLength="314.72" lengthAdjust="spacingAndGlyphs">Inflammation and stress</text>
<text x="257.20" y="113.80" font-size="33" fill="#000" textLength="113.09" lengthAdjust="spacingAndGlyphs">Exercise</text>
<text x="118.60" y="168.20" font-size="33" fill="#000" textLength="117.60" lengthAdjust="spacingAndGlyphs">Vitamins</text>
<text x="7.61" y="209.30" font-size="33" fill="#000" textLength="161.22" lengthAdjust="spacingAndGlyphs">Diet and gut</text>
<text x="7.61" y="245.60" font-size="33" fill="#000" textLength="157.94" lengthAdjust="spacingAndGlyphs">microbiome</text>
<text x="102.51" y="400.50" font-size="33" fill="#000" textLength="116.39" lengthAdjust="spacingAndGlyphs">Minerals</text>
<text x="209.91" y="481.60" font-size="33" fill="#000" textLength="196.12" lengthAdjust="spacingAndGlyphs">Glucocorticoid</text>
<text x="487.61" y="485.60" font-size="33" fill="#000" textLength="80.68" lengthAdjust="spacingAndGlyphs">Aging</text>
<text x="776.69" y="179.10" font-size="30" fill="#000" textLength="144.26" lengthAdjust="spacingAndGlyphs">Kynurenine</text>
<text x="797.70" y="213.30" font-size="30" fill="#000" textLength="101.63" lengthAdjust="spacingAndGlyphs">pathway</text>
<text x="791.09" y="303.50" font-size="23.5" fill="#000" textLength="110.73" lengthAdjust="spacingAndGlyphs">Tryptophan</text>
<text x="691.95" y="374.40" font-size="30" fill="#000" textLength="119.42" lengthAdjust="spacingAndGlyphs">Serotonin</text>
<text x="700.60" y="408.00" font-size="30" fill="#000" textLength="101.53" lengthAdjust="spacingAndGlyphs">pathway</text>
<text x="915.98" y="374.40" font-size="30" fill="#000" textLength="78.08" lengthAdjust="spacingAndGlyphs">Indole</text>
<text x="903.60" y="408.00" font-size="30" fill="#000" textLength="101.53" lengthAdjust="spacingAndGlyphs">pathway</text>
<text x="1118.10" y="87.90" font-size="33" fill="#000" textLength="137.04" lengthAdjust="spacingAndGlyphs">Glutamate</text>
<text x="1348.87" y="109.60" font-size="16" fill="#1e3a1c" textLength="31.87" lengthAdjust="spacingAndGlyphs">CD4</text>
<text x="1390.79" y="109.60" font-size="16" fill="#1e3a1c" textLength="10.19" lengthAdjust="spacingAndGlyphs">T</text>
<text x="1360.71" y="132.20" font-size="17" fill="#1e3a1c" textLength="28.02" lengthAdjust="spacingAndGlyphs">Cell</text>
<text x="1422.18" y="100.80" font-size="32" fill="#000" textLength="249.20" lengthAdjust="spacingAndGlyphs">Immune regulation</text>
<text x="1454.41" y="161.40" font-size="33" fill="#000" textLength="239.19" lengthAdjust="spacingAndGlyphs">G protein-coupled</text>
<text x="1520.30" y="198.10" font-size="33" fill="#000" textLength="107.99" lengthAdjust="spacingAndGlyphs">receptor</text>
<text x="1500.01" y="297.10" font-size="33" fill="#000" textLength="121.79" lengthAdjust="spacingAndGlyphs">Nicotinic</text>
<text x="1477.41" y="333.20" font-size="33" fill="#000" textLength="174.49" lengthAdjust="spacingAndGlyphs">acetylcholine</text>
<text x="1511.41" y="370.30" font-size="33" fill="#000" textLength="106.78" lengthAdjust="spacingAndGlyphs">receptor</text>
<text x="1359.10" y="418.90" font-size="21" fill="#1a1a2a" textLength="39.37" lengthAdjust="spacingAndGlyphs">AhR</text>
<text x="1415.10" y="424.80" font-size="33" fill="#000" textLength="231.70" lengthAdjust="spacingAndGlyphs">Aryl hydrocarbon</text>
<text x="1476.91" y="461.70" font-size="33" fill="#000" textLength="107.18" lengthAdjust="spacingAndGlyphs">receptor</text>
<text x="1313.91" y="499.40" font-size="33" fill="#000" textLength="136.45" lengthAdjust="spacingAndGlyphs">Dopamine</text>
<text x="467.82" y="679.50" font-size="40" fill="#000" textLength="752.40" lengthAdjust="spacingAndGlyphs" stroke="#000" stroke-width="1.8" stroke-linejoin="round">Drug treatment and current situation of diseases</text>
<text x="214.51" y="749.00" font-size="36" fill="#000" textLength="276.93" lengthAdjust="spacingAndGlyphs">Alzheimer's disease</text>
<text x="213.83" y="822.80" font-size="36" fill="#000" textLength="269.29" lengthAdjust="spacingAndGlyphs">Parkinson's disease</text>
<text x="213.83" y="896.70" font-size="36" fill="#000" textLength="288.79" lengthAdjust="spacingAndGlyphs">Huntington's disease</text>
<text x="681.04" y="747.30" font-size="36" fill="#000" textLength="156.11" lengthAdjust="spacingAndGlyphs">Depression</text>
<text x="681.03" y="821.50" font-size="36" fill="#000" textLength="248.80" lengthAdjust="spacingAndGlyphs">Multiple sclerosis</text>
<text x="679.67" y="894.50" font-size="36" fill="#000" textLength="200.14" lengthAdjust="spacingAndGlyphs">Schizophrenia</text>
<text x="684.55" y="953.20" font-size="36" fill="#000" textLength="120.23" lengthAdjust="spacingAndGlyphs">Epilepsy</text>
<text x="1103.71" y="748.00" font-size="36" fill="#000" textLength="223.44" lengthAdjust="spacingAndGlyphs">Anxiety disoder</text>
<text x="1103.31" y="821.80" font-size="36" fill="#000" textLength="410.73" lengthAdjust="spacingAndGlyphs">Amyotrophic lateral sclerosis</text>
<text x="1103.71" y="894.60" font-size="36" fill="#000" textLength="362.22" lengthAdjust="spacingAndGlyphs">Autism spectrum disorder</text>
</svg>
</body></html>
